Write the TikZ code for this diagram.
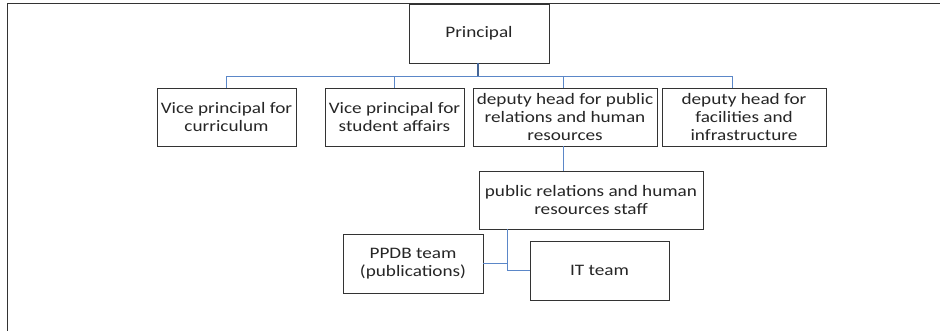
\documentclass[tikz,border=0pt]{standalone}
\usepackage{fontspec}
\setmainfont[FakeStretch=1.2]{Carlito}
\definecolor{linkblue}{RGB}{91,135,200}
\begin{document}
\begin{tikzpicture}[x=1pt,y=-1pt,
  box/.style={draw=black!80,line width=0.9pt,fill=white,align=center,inner sep=0pt,text=black!85,font=\fontsize{16}{17.7}\selectfont},
  conn/.style={draw=linkblue,line width=0.9pt}]
\useasboundingbox (0,0) rectangle (940,331);
\draw[line width=1pt,black!80] (7,331) -- (7,4) -- (940,4);
\node[box,minimum width=140,minimum height=59] (p) at (479,33.5) {Principal};
\node[box,minimum width=139,minimum height=58] (v1) at (226.5,117) {Vice principal for\\curriculum};
\node[box,minimum width=139,minimum height=58] (v2) at (394.5,117) {Vice principal for\\student affairs};
\node[box,minimum width=184,minimum height=58] (d1) at (565,117) {deputy head for public\\relations and human\\resources};
\node[box,minimum width=164,minimum height=58] (d2) at (744,117) {deputy head for\\facilities and\\infrastructure};
\node[box,minimum width=224,minimum height=58] (s) at (591,200) {public relations and human\\resources staff};
\node[box,minimum width=140,minimum height=59] (pp) at (413,263.5) {PPDB team\\(publications)};
\node[box,minimum width=139,minimum height=59] (it) at (599.5,270.5) {IT team};
\coordinate (bus) at (478,76);
\draw[conn,line width=1.4pt,draw=linkblue!75!black] (p.south -| bus) -- (bus);
\draw[conn] (v1.north) |- (bus);
\draw[conn] (v2.north) |- (bus);
\draw[conn] (d1.north -| 563,0) |- (bus);
\draw[conn] (d2.north -| 732,0) |- (bus);
\draw[conn] (d1.south -| 563,0) -- (s.north -| 563,0);
\draw[conn] (s.south -| 507,0) |- (it.west);
\draw[conn] (pp.east) -- (pp.east -| 507,0);
\end{tikzpicture}
\end{document}
